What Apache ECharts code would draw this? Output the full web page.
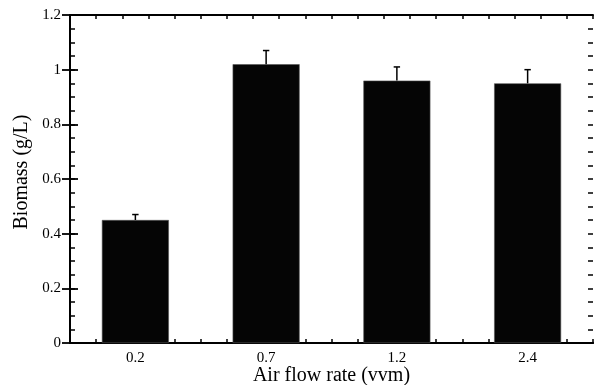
<!DOCTYPE html>
<html>
<head>
<meta charset="utf-8">
<script src="https://cdn.jsdelivr.net/npm/echarts@6/dist/echarts.min.js"></script>
<style>html,body{margin:0;padding:0;background:#fff}#c{width:598px;height:385px}</style>
</head>
<body>
<div id="c"></div>
<script>
const categories = ['0.2', '0.7', '1.2', '2.4'];
const biomass = [0.45, 1.02, 0.96, 0.95];
const errors = [0.02, 0.05, 0.05, 0.05];
const yTicks = [0, 0.2, 0.4, 0.6, 0.8, 1, 1.2];

const FONT = 'Liberation Serif';
const chart = echarts.init(document.getElementById('c'), null, {renderer: 'canvas'});

const tickAxis = (pos) => ({
  type: 'value', position: pos, min: 0, max: 20, interval: 1,
  axisLine: {show: true, onZero: false, lineStyle: {color: '#000', width: 2}},
  axisTick: {show: true, inside: true, length: 4, lineStyle: {color: '#000', width: 1.5}},
  axisLabel: {show: false}, splitLine: {show: false}
});

const yMinor = (pos) => ({
  type: 'value', position: pos, min: 0, max: 1.2, interval: 0.05,
  axisLine: {show: false},
  axisTick: {show: true, inside: true, length: 5, lineStyle: {color: '#000', width: 1.5}},
  axisLabel: {show: false}, splitLine: {show: false}
});

const yMajor = (pos, labels) => ({
  type: 'value', position: pos, min: 0, max: 1.2, interval: 0.2,
  axisLine: {show: true, lineStyle: {color: '#000', width: 2}},
  axisTick: {show: true, inside: true, length: 8, lineStyle: {color: '#000', width: 1.8}},
  axisLabel: labels ? {color: '#000', fontFamily: FONT, fontSize: 15, margin: 9,
    formatter: v => String(yTicks.find(t => Math.abs(t - v) < 1e-9) ?? v)} : {show: false},
  splitLine: {show: false}
});

const yLeft = Object.assign(yMajor('left', true), {
  name: 'Biomass (g/L)', nameLocation: 'middle', nameGap: 38, nameRotate: 90,
  nameMoveOverlap: false,
  nameTextStyle: {color: '#000', fontFamily: FONT, fontSize: 20, padding: [0, 0, 0, 14]}
});

chart.setOption({
  animation: false,
  backgroundColor: '#fff',
  grid: {left: 70, top: 15, right: 5, bottom: 42, containLabel: false, outerBoundsMode: 'none'},
  xAxis: [
    {
      type: 'category', data: categories, position: 'bottom',
      axisLine: {show: true, onZero: false, lineStyle: {color: '#000', width: 2}},
      axisTick: {show: false},
      axisLabel: {color: '#000', fontFamily: FONT, fontSize: 15, margin: 8},
      name: 'Air flow rate (vvm)', nameLocation: 'middle', nameGap: 23,
      nameMoveOverlap: false,
      nameTextStyle: {color: '#000', fontFamily: FONT, fontSize: 20, verticalAlign: 'top'}
    },
    tickAxis('bottom'),
    tickAxis('top')
  ],
  yAxis: [
    yLeft,
    yMajor('right', false),
    yMinor('left'),
    yMinor('right')
  ],
  series: [
    {
      type: 'bar', xAxisIndex: 0, yAxisIndex: 0, data: biomass, barWidth: 67,
      itemStyle: {color: '#050505', borderColor: '#555', borderWidth: 0.6}, z: 3
    },
    {
      type: 'custom', xAxisIndex: 0, yAxisIndex: 0, z: 4,
      data: biomass.map((v, i) => [i, v, v + errors[i]]),
      renderItem: (params, api) => {
        const base = api.coord([api.value(0), api.value(1)]);
        const top = api.coord([api.value(0), api.value(2)]);
        const hw = 3.2;
        const style = {stroke: '#000', lineWidth: 1.5};
        return {
          type: 'group',
          children: [
            {type: 'line', shape: {x1: base[0], y1: base[1], x2: top[0], y2: top[1]}, style},
            {type: 'line', shape: {x1: top[0] - hw, y1: top[1], x2: top[0] + hw, y2: top[1]}, style}
          ]
        };
      }
    }
  ]
});
</script>
</body>
</html>
